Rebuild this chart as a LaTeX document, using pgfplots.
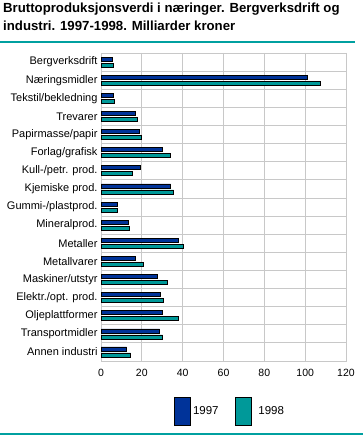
\documentclass[border=0pt]{standalone}
\usepackage{fontspec}
\setmainfont{Liberation Sans}
\usepackage{pgfplots}
\pgfplotsset{compat=1.18}
\definecolor{cA}{RGB}{0,51,153}
\definecolor{cB}{RGB}{0,153,153}
\definecolor{rule}{RGB}{0,160,160}
\definecolor{gridc}{RGB}{200,200,200}
\begin{document}
\begin{tikzpicture}[x=1pt,y=1pt]
\useasboundingbox (0,0) rectangle (363,435);
\node[anchor=base west,inner sep=0pt,font=\bfseries\fontsize{13.2}{16}\selectfont] at (3,422) {Bruttoproduksjonsverdi i næringer. Bergverksdrift og};
\node[anchor=base west,inner sep=0pt,font=\bfseries\fontsize{13.2}{16}\selectfont] at (3,404) {industri. 1997-1998. Milliarder kroner};
\draw[rule,line width=1.5pt] (0,393) -- (355,393);
\draw[rule,line width=1.5pt] (0,1) -- (363,1);
\begin{axis}[
  at={(101pt,74pt)}, anchor=south west,
  scale only axis, width=245pt, height=308pt,
  xbar, bar width=4pt,
  xmin=0, xmax=120, ymin=-0.5, ymax=16.5,
  y dir=reverse,
  xtick={0,20,...,120},
  ytick={0,...,16},
  yticklabels={Bergverksdrift,Næringsmidler,Tekstil/bekledning,Trevarer,Papirmasse/papir,Forlag/grafisk,Kull-/petr. prod.,Kjemiske prod.,Gummi-/plastprod.,Mineralprod.,Metaller,Metallvarer,Maskiner/utstyr,Elektr./opt. prod.,Oljeplattformer,Transportmidler,Annen industri},
  minor ytick={0.5,1.5,...,15.5},
  ymajorgrids=false, yminorgrids=true, xmajorgrids=true,
  grid style={gridc, line width=0.8pt},
  minor grid style={gridc, line width=0.8pt},
  axis line style={gridc, line width=0.8pt},
  major tick length=0pt, minor tick length=0pt,
  tick style={draw=none},
  /pgf/number format/assume math mode=true,
  xticklabel style={font=\fontsize{10.5}{12}\selectfont, yshift=-5pt},
  yticklabel style={font=\fontsize{11}{12}\selectfont},
  legend style={at={(0.298,-0.1623)}, anchor=west, draw=none, fill=none, inner sep=0pt,
    legend columns=2, /tikz/every even column/.append style={column sep=14pt},
    font=\fontsize{11.5}{13}\selectfont},
  legend image code/.code={\draw[#1,draw=black,line width=0.8pt] (0pt,-14pt) rectangle (16pt,14pt);},
]
\addplot[fill=cA, draw=black, line width=0.6pt, bar shift=3pt] coordinates {
(5.7,0) (101,1) (6.2,2) (17.0,3) (18.8,4) (30.2,5) (19.4,6) (34.1,7) (8.2,8) (13.6,9) (38.0,10) (17.0,11) (27.8,12) (28.9,13) (30.2,14) (28.7,15) (12.6,16)};
\addplot[fill=cB, draw=black, line width=0.6pt, bar shift=-3pt] coordinates {
(6.2,0) (107.6,1) (6.7,2) (18.0,3) (19.9,4) (33.8,5) (15.5,6) (35.6,7) (8.2,8) (14.0,9) (40.5,10) (20.9,11) (32.7,12) (30.7,13) (38.0,14) (30.2,15) (14.5,16)};
\legend{1997,\hspace{5pt}1998}
\end{axis}
\end{tikzpicture}
\end{document}
